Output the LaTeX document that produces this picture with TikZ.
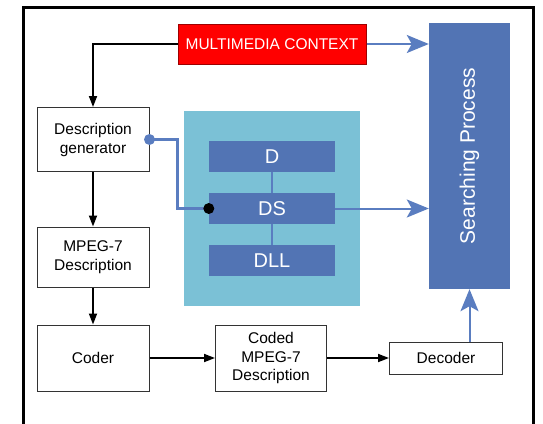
\documentclass[tikz,border=0pt]{standalone}
\usepackage{fontspec}
\setmainfont{Liberation Sans}
\usetikzlibrary{arrows.meta,calc}
\definecolor{boxblue}{HTML}{5274B4}
\definecolor{lineblue}{HTML}{5A7DC0}
\definecolor{panelblue}{HTML}{7BC1D6}
\definecolor{redfill}{HTML}{FF0000}
\definecolor{redline}{HTML}{9E0000}
\tikzset{
  wbox/.style={draw=black!80, line width=1pt, fill=white, align=center, inner sep=0pt,
    font=\fontsize{15.5}{19}\selectfont},
  bbox/.style={fill=boxblue, text=white, inner sep=0pt, font=\fontsize{20}{24}\selectfont},
  blk/.style={line width=1.8pt, -{Triangle[length=11pt,width=8pt]}},
  blu/.style={draw=lineblue, line width=2pt, -{Stealth[length=22pt,width=18pt,inset=5pt]}},
  bline/.style={draw=lineblue, line width=3pt},
}
\begin{document}
\begin{tikzpicture}[x=1pt,y=-1pt]
\useasboundingbox (0,0) rectangle (543,423);
% outer frame (bottom lies outside picture)
\draw[line width=3pt] (23.5,7.5) rectangle (533,450);
% panel
\node[fill=panelblue, minimum width=176pt, minimum height=195pt, inner sep=0pt] (panel) at (272,208.5) {};
% nodes
\node[fill=redfill, draw=redline, line width=1pt, text=white, minimum width=188pt, minimum height=40pt,
  inner sep=0pt, font=\fontsize{15.5}{19}\selectfont] (mc) at (272,44) {MULTIMEDIA CONTEXT};
\node[fill=boxblue, minimum width=81pt, minimum height=266pt, inner sep=0pt] (sp) at (469.5,156) {};
\node[text=white, rotate=90, font=\fontsize{21}{25}\selectfont] (splabel) at (sp.center) {Searching Process};
\node[wbox, minimum width=112pt, minimum height=64pt] (dg) at (93,139.5) {Description\\generator};
\node[wbox, minimum width=112pt, minimum height=60pt] (mp) at (93,257) {MPEG-7\\Description};
\node[wbox, minimum width=112pt, minimum height=66pt] (coder) at (93,358) {Coder};
\node[wbox, minimum width=111pt, minimum height=66pt, font=\fontsize{15.5}{18.5}\selectfont] (coded) at (271,358) {Coded\\MPEG-7\\Description};
\node[wbox, minimum width=113pt, minimum height=32pt] (dec) at (446,358) {Decoder};
\node[bbox, minimum width=126pt, minimum height=31pt] (d) at (272,156.5) {D};
\node[bbox, minimum width=126pt, minimum height=31pt] (ds) at (272,208.5) {DS};
\node[bbox, minimum width=126pt, minimum height=31pt] (dll) at (272,260.5) {DLL};
% connectors
\draw[blk] (mc.west) -| (dg.north);
\draw[blk] (dg.south) -- (mp.north);
\draw[blk] (mp.south) -- (coder.north);
\draw[blk] (coder.east) -- (coded.west);
\draw[blk] (coded.east) -- (dec.west);
\draw[blu] (mc.east) -- (mc.east -| sp.west);
\draw[blu] (ds.east) -- (ds.east -| sp.west);
\draw[blu] (dec.north -| sp.center) -- (sp.south);
\draw[draw=lineblue, line width=2pt] (d.south) -- (ds.north);
\draw[draw=lineblue, line width=2pt] (ds.south) -- (dll.north);
\draw[bline] (dg.east) -- ++(28,0) |- (ds.west);
\fill[lineblue] (dg.east) circle (5.5pt);
\fill[black] (ds.west) circle (5.5pt);
\end{tikzpicture}
\end{document}
